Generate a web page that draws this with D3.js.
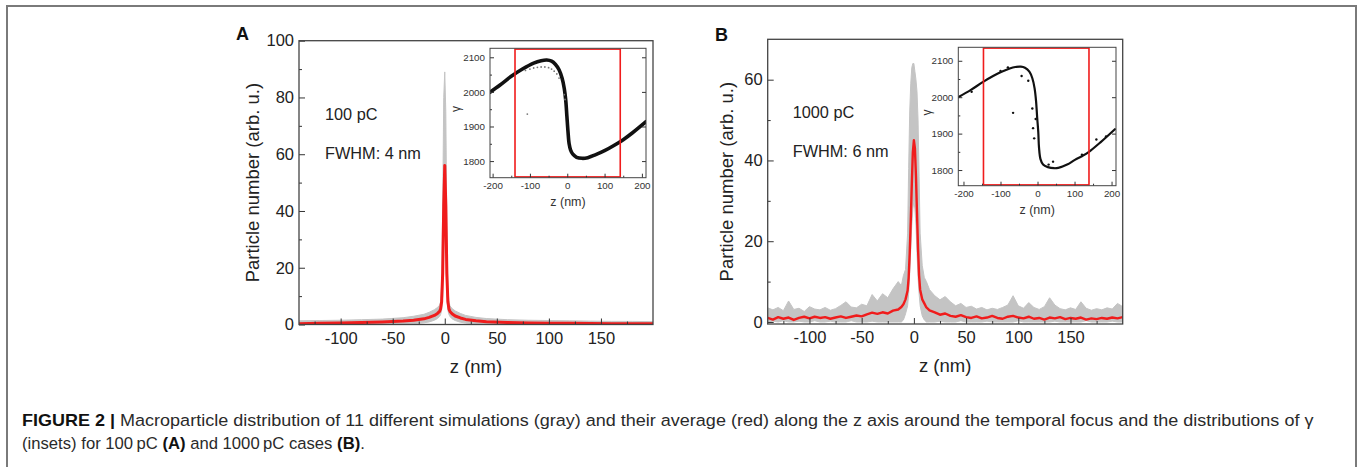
<!DOCTYPE html>
<html>
<head>
<meta charset="utf-8">
<script src="https://cdn.jsdelivr.net/npm/d3@7"></script>
<style>
  body { margin: 0; background: #fff; }
  svg { display: block; font-family: "Liberation Sans", Arial, sans-serif; }
</style>
</head>
<body>
<svg id="fig" width="1360" height="467"></svg>
<script>
// ---------- data ----------
// panel A : z grid (nm), 11-run envelope (gray) and average (red)
const zA = [-140,-120,-100,-80,-60,-40,-30,-20,-15,-10,-7,-5,-4,-3,-2,-1,0,1,2,3,4,5,7,10,15,20,30,40,60,80,100,120,140,160,180,200];
const redA = [0.3,0.4,0.5,0.7,0.9,1.2,1.5,2.0,2.5,3.2,3.9,4.6,5.5,8,18,42,56,42,18,8,5.5,4.6,3.8,3.0,2.3,1.8,1.3,1.0,0.7,0.55,0.45,0.4,0.35,0.3,0.3,0.25];
const grayHiA = [1.3,1.4,1.5,1.7,1.9,2.4,2.9,3.6,4.3,5.2,6.0,6.8,8,14,40,80,89,75,35,13,8,6.6,5.6,4.8,3.9,3.2,2.5,2.1,1.7,1.5,1.4,1.3,1.2,1.1,1.1,1.0];
const grayLoA = [0,0,0,0,0,0.1,0.3,0.6,0.9,1.5,2.1,2.8,3.5,5,10,25,40,25,10,5,3.5,2.8,2.0,1.4,0.8,0.5,0.2,0,0,0,0,0,0,0,0,0];

// panel B
const zB = [-140,-135,-130,-125,-120,-115,-110,-105,-100,-95,-90,-85,-80,-75,-70,-65,-60,-55,-50,-45,-40,-35,-30,-25,-20,-15,
  -12,-10,-8,-6,-5,-4,-3,-2,-1,0,1,2,3,4,5,6,8,10,12,
  15,20,25,30,35,40,45,50,55,60,65,70,75,80,85,90,95,100,105,110,115,120,125,130,135,140,145,150,155,160,165,170,175,180,185,190,195,200];
const redB = [1.0,0.6,1.2,0.8,1.1,0.5,1.0,1.3,0.9,1.3,1.0,1.2,0.8,1.1,1.4,1.0,1.3,1.6,1.4,1.9,2.3,2.0,2.4,2.1,2.8,3.1,
  3.7,4.4,5.6,7.8,11,17,25,34,42,45,43,36,27,18,11.5,8,5.6,4.6,3.6,
  2.9,2.4,1.8,2.1,1.5,1.3,1.7,1.2,1.0,1.4,0.9,1.1,1.5,1.0,0.8,1.3,1.5,1.1,0.9,1.3,0.8,1.0,0.6,1.1,0.9,1.2,0.7,1.0,0.8,1.1,0.6,0.9,0.7,1.0,0.8,1.1,0.9,1.2];
const grayHiB = [3.5,3.0,3.6,2.8,5.2,3.1,3.4,2.6,3.8,3.2,3.0,3.6,2.9,3.3,4.1,5.0,3.7,3.5,4.4,4.0,6.8,5.2,7.0,6.0,8.2,10.0,
  9.0,11.5,13,22,38,52,59,63,64,64,62,60,57,50,36,22,14,11,10,
  8.0,6.5,5.5,6.3,5.0,4.0,4.6,3.6,3.9,3.2,3.6,3.0,3.4,3.1,3.6,4.2,6.5,4.0,3.4,4.8,3.6,3.1,3.8,6.0,4.2,3.3,3.0,3.5,3.1,5.0,3.4,2.9,3.3,3.0,3.5,3.2,4.6,3.8];
const grayLoB = [0,0.2,0,0.3,0,0,0.2,0,0,0.3,0,0,0.2,0,0,0,0.3,0,0,0,0.2,0,0,0,0,0,
  0,0.5,2,4,7,12,18,24,28,30,28,24,17,11,7,4,1.5,0.5,0,
  0,0,0.2,0,0,0,0.3,0,0,0,0,0.2,0,0,0,0,0,0.3,0,0,0,0,0,0,0.2,0,0,0,0,0,0.3,0,0,0,0,0.2,0,0];

// insets : gamma versus z
const gammaZA = [-207,-180,-150,-120,-90,-70,-55,-42,-32,-22,-14,-8,-4,-1,2,5,9,15,25,40,55,75,100,125,150,175,211];
const gammaA  = [1999,2020,2045,2066,2083,2090,2092,2089,2080,2064,2040,2010,1975,1930,1885,1850,1832,1820,1811,1808,1810,1818,1830,1845,1862,1882,1914];
const faintA  = [[-112,2062],[-100,2066],[-90,2069],[-80,2071],[-70,2072],[-60,2072],[-50,2070],[-42,2066],[-35,2060],[-28,2052],[-22,2040],[-8,1992],[-6,1978],[-107,1936]];
const gammaZB = [-214,-180,-147,-120,-97,-75,-60,-45,-34,-22,-14,-8,-4,-1,2,4,8,15,28,45,56,80,101,120,139,170,209];
const gammaB  = [2000,2020,2042,2058,2070,2079,2083,2084,2081,2070,2052,2025,1990,1945,1905,1862,1830,1815,1808,1805,1806,1815,1828,1838,1850,1876,1912];
const strayB  = [[-66,1957],[-43,2058],[-25,2045],[-14,1969],[-12,1915],[-9,1887],[42,1823],[159,1884],[-178,2015],[-100,2072],[-80,2082],[120,1842],[185,1892],[-5,1940],[30,1815]];

const mainXTicks = [-100,-50,0,50,100,150];
const mainXMinor = [-125,-75,-25,25,75,125,175];
const insetXTicks = [-200,-100,0,100,200];
const insetXMinor = [-150,-50,50,150];
const insetYTicks = [1800,1900,2000,2100];
const insetYMinor = [1850,1950,2050];

const RED = "#f01c1c", GRAY = "#c4c4c4", INK = "#222";
const plain = d => String(d);   // "-100" with a hyphen, no thousands comma

const svg = d3.select("#fig");

// outer frame of the figure
svg.append("rect")
  .attr("x", 7).attr("y", 6).attr("width", 1349).attr("height", 480)
  .attr("fill", "none").attr("stroke", "#7a7a7a").attr("stroke-width", 2);

function styleAxis(sel, size, color) {
  sel.select(".domain").remove();
  sel.selectAll(".tick line").attr("stroke", "#333").attr("stroke-width", 1);
  sel.selectAll("text").attr("font-size", size).attr("fill", color)
    .attr("font-family", '"Liberation Sans", Arial, sans-serif');
}

function drawMain(cfg) {
  const f = cfg.frame;
  const g = svg.append("g").attr("transform", `translate(${f.x},${f.y})`);
  const x = d3.scaleLinear().domain([-140, 200]).range([0, f.w]);
  const y = d3.scaleLinear().domain(cfg.yDomain).range([f.h, 0]);

  g.append("clipPath").attr("id", "clip" + cfg.label)
    .append("rect").attr("width", f.w).attr("height", f.h);
  const body = g.append("g").attr("clip-path", `url(#clip${cfg.label})`);

  // gray envelope of the 11 runs
  body.append("path")
    .datum(cfg.z.map((z, i) => [z, cfg.lo[i], cfg.hi[i]]))
    .attr("d", d3.area().x(d => x(d[0])).y0(d => y(d[1])).y1(d => y(d[2])))
    .attr("fill", GRAY).attr("stroke", GRAY).attr("stroke-width", 1);

  // average
  body.append("path")
    .datum(cfg.z.map((z, i) => [z, cfg.red[i]]))
    .attr("d", d3.line().x(d => x(d[0])).y(d => y(d[1])))
    .attr("fill", "none").attr("stroke", RED)
    .attr("stroke-width", cfg.redW).attr("stroke-linejoin", "round");

  // axes, ticks pointing inward
  g.append("g").attr("transform", `translate(0,${f.h})`)
    .call(d3.axisBottom(x).tickValues(mainXTicks).tickFormat(plain).tickSizeInner(-6).tickSizeOuter(0).tickPadding(7.5))
    .call(s => styleAxis(s, 16.5, INK));
  g.append("g").attr("transform", `translate(0,${f.h})`)
    .call(d3.axisBottom(x).tickValues(mainXMinor).tickSize(-3).tickFormat(""))
    .call(s => styleAxis(s, 0, INK));
  g.append("g")
    .call(d3.axisLeft(y).tickValues(cfg.yTicks).tickFormat(plain).tickSizeInner(-6).tickSizeOuter(0).tickPadding(5))
    .call(s => styleAxis(s, 16.5, INK));
  g.append("g")
    .call(d3.axisLeft(y).tickValues(cfg.yMinor).tickSize(-3).tickFormat(""))
    .call(s => styleAxis(s, 0, INK));

  g.append("rect").attr("width", f.w).attr("height", f.h)
    .attr("fill", "none").attr("stroke", "#444").attr("stroke-width", 1.3);

  // titles
  g.append("text")
    .attr("x", f.w / 2).attr("y", f.h + 48.5)
    .attr("text-anchor", "middle").attr("font-size", 18.5).attr("fill", INK)
    .text("z (nm)");
  g.append("text")
    .attr("transform", `translate(${cfg.yTitleX},${f.h / 2}) rotate(-90)`)
    .attr("text-anchor", "middle").attr("font-size", 18.5).attr("fill", INK)
    .text("Particle number (arb. u.)");

  // panel letter and notes
  svg.append("text").attr("x", cfg.letter[0]).attr("y", cfg.letter[1])
    .attr("font-size", 18).attr("font-weight", "bold").attr("fill", "#111")
    .text(cfg.label);
  g.append("text").attr("x", cfg.note[0]).attr("y", cfg.note[1])
    .attr("font-size", 16.3).attr("fill", INK).text(cfg.charge);
  g.append("text").attr("x", cfg.note[0]).attr("y", cfg.note[1] + 39)
    .attr("font-size", 16.3).attr("fill", INK).text(cfg.fwhm);
}

function drawInset(cfg) {
  const f = cfg.frame;
  const g = svg.append("g").attr("transform", `translate(${f.x},${f.y})`);
  const x = d3.scaleLinear().domain(cfg.xDomain).range([0, f.w]);
  const y = d3.scaleLinear().domain(cfg.yDomain).range([f.h, 0]);

  g.append("rect").attr("width", f.w).attr("height", f.h).attr("fill", "#fff");
  g.append("clipPath").attr("id", "iclip" + cfg.id)
    .append("rect").attr("width", f.w).attr("height", f.h);
  const body = g.append("g").attr("clip-path", `url(#iclip${cfg.id})`);

  body.append("path")
    .datum(cfg.z.map((z, i) => [z, cfg.g[i]]))
    .attr("d", d3.line().x(d => x(d[0])).y(d => y(d[1])).curve(d3.curveCatmullRom))
    .attr("fill", "none").attr("stroke", "#111")
    .attr("stroke-width", cfg.lineW).attr("stroke-linecap", "round");

  body.selectAll("circle.dot")
    .data(cfg.dots)
    .join("circle")
      .attr("class", "dot")
      .attr("cx", d => x(d[0]))
      .attr("cy", d => y(d[1]))
      .attr("r", cfg.dotR)
      .attr("fill", cfg.dotColor);

  // window shown in the main plot
  body.append("rect")
    .attr("x", x(cfg.window[0])).attr("y", 0.8)
    .attr("width", x(cfg.window[1]) - x(cfg.window[0])).attr("height", f.h - 1.6)
    .attr("fill", "none").attr("stroke", RED).attr("stroke-width", 1.6);

  g.append("g").attr("transform", `translate(0,${f.h})`)
    .call(d3.axisBottom(x).tickValues(insetXTicks).tickFormat(plain).tickSizeInner(-4).tickSizeOuter(0).tickPadding(4))
    .call(s => styleAxis(s, 9.8, "#333"));
  g.append("g").attr("transform", `translate(0,${f.h})`)
    .call(d3.axisBottom(x).tickValues(insetXMinor).tickSize(-2).tickFormat(""))
    .call(s => styleAxis(s, 0, "#333"));
  g.append("g")
    .call(d3.axisLeft(y).tickValues(insetYTicks).tickFormat(plain).tickSizeInner(-4).tickSizeOuter(0).tickPadding(5))
    .call(s => styleAxis(s, 9.8, "#333"));
  g.append("g")
    .call(d3.axisLeft(y).tickValues(insetYMinor).tickSize(-2).tickFormat(""))
    .call(s => styleAxis(s, 0, "#333"));
  g.append("g").attr("transform", `translate(${f.w},0)`)
    .call(d3.axisRight(y).tickValues(insetYTicks).tickSize(-4).tickFormat(""))
    .call(s => styleAxis(s, 0, "#333"));

  g.append("rect").attr("width", f.w).attr("height", f.h)
    .attr("fill", "none").attr("stroke", "#444").attr("stroke-width", 1);

  g.append("text").attr("x", f.w / 2).attr("y", cfg.zTitleY)
    .attr("text-anchor", "middle").attr("font-size", 12.5).attr("fill", "#333")
    .text("z (nm)");
  g.append("text")
    .attr("transform", `translate(${cfg.gTitleX},${f.h / 2 - 4}) rotate(-90)`)
    .attr("text-anchor", "middle").attr("font-size", 12).attr("fill", "#333")
    .text("γ");
}

drawMain({
  label: "A", frame: {x: 299, y: 40.7, w: 354, h: 283.8},
  z: zA, red: redA, hi: grayHiA, lo: grayLoA, redW: 3,
  yDomain: [0, 100], yTicks: [0,20,40,60,80,100], yMinor: [10,30,50,70,90],
  yTitleX: -40, letter: [236, 40], note: [26, 79],
  charge: "100 pC", fwhm: "FWHM: 4 nm"
});
drawMain({
  label: "B", frame: {x: 767.7, y: 39.3, w: 355, h: 284.7},
  z: zB, red: redB, hi: grayHiB, lo: grayLoB, redW: 2.4,
  yDomain: [-0.5, 70], yTicks: [0,20,40,60], yMinor: [10,30,50],
  yTitleX: -35, letter: [715, 40.5], note: [25, 79],
  charge: "1000 pC", fwhm: "FWHM: 6 nm"
});
drawInset({
  id: "A", frame: {x: 490, y: 48.3, w: 156, h: 129.4},
  xDomain: [-207, 211], yDomain: [1752, 2126],
  z: gammaZA, g: gammaA, lineW: 3.6, dots: faintA, dotR: 0.9, dotColor: "#777",
  window: [-140, 142], zTitleY: 158, gTitleX: -30
});
drawInset({
  id: "B", frame: {x: 958.3, y: 47.3, w: 157.7, h: 138.4},
  xDomain: [-214, 212], yDomain: [1757, 2137],
  z: gammaZB, g: gammaB, lineW: 2.2, dots: strayB, dotR: 1.2, dotColor: "#111",
  window: [-146, 139], zTitleY: 167, gTitleX: -27
});

// caption
const cap1 = svg.append("text").attr("x", 22).attr("y", 426)
  .attr("font-size", 16.5).attr("fill", "#2a2a2a");
cap1.append("tspan").attr("font-weight", "bold").attr("fill", "#111").text("FIGURE 2 | ");
cap1.append("tspan").text("Macroparticle distribution of 11 different simulations (gray) and their average (red) along the z axis around the temporal focus and the distributions of γ");
const cap2 = svg.append("text").attr("x", 22).attr("y", 449)
  .attr("font-size", 16.5).attr("fill", "#2a2a2a");
cap2.append("tspan").text("(insets) for 100\u2009pC ");
cap2.append("tspan").attr("font-weight", "bold").attr("fill", "#111").text("(A)");
cap2.append("tspan").text(" and 1000\u2009pC cases ");
cap2.append("tspan").attr("font-weight", "bold").attr("fill", "#111").text("(B)");
cap2.append("tspan").text(".");

// squeeze each caption line to the width it has in the original
[[cap1, 1292], [cap2, 343]].forEach(([t, w]) => {
  const sx = w / t.node().getComputedTextLength();
  t.attr("transform", `translate(22,0) scale(${sx},1) translate(-22,0)`);
});
</script>
</body>
</html>
